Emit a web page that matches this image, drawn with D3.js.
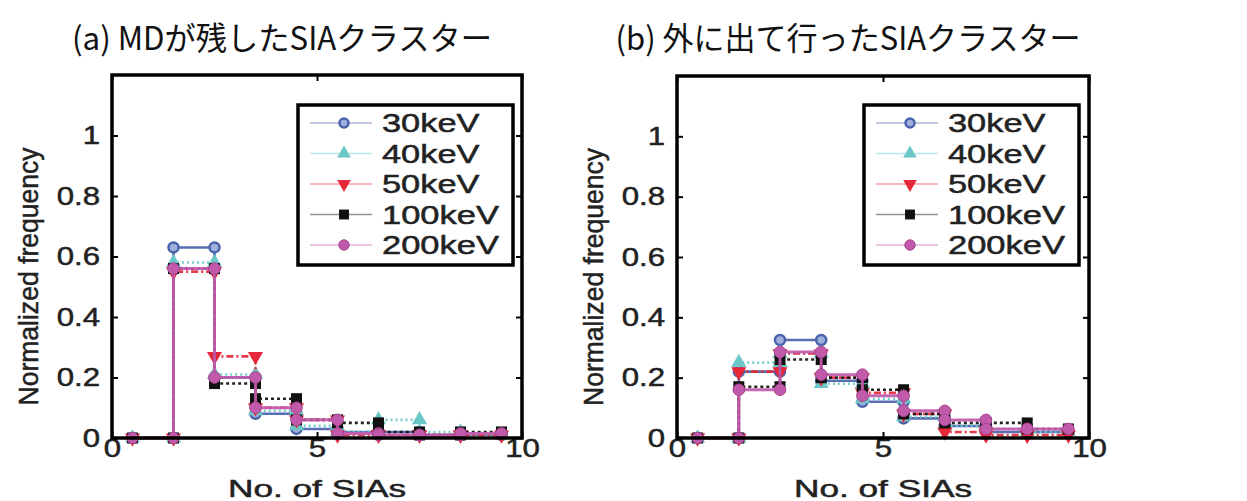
<!DOCTYPE html>
<html>
<head>
<meta charset="utf-8">
<style>
body { margin: 0; background: #fff; }
svg { display: block; }
.tick text, .legend text, .xlabel, .ylabel { font-family: "Liberation Sans", Arial, sans-serif; fill: #222; stroke: #222; stroke-width: 0.5px; }
.title { font-family: "Noto Sans CJK JP", sans-serif; fill: #111; }
.domain { display: none; }
</style>
</head>
<body>
<svg width="1247" height="501"></svg>
<script src="https://d3js.org/d3.v7.min.js"></script>
<script>
// bins: number of SIAs in a cluster
var bins = [1, 2, 3, 4, 5, 6, 7, 8, 9];
var energies = ["30keV", "40keV", "50keV", "100keV", "200keV"];
var xTicks = [0, 5, 10];
var yTicks = [0, 0.2, 0.4, 0.6, 0.8, 1];

// (a) clusters left by MD
var a30 = [0, 0.63, 0.20, 0.08, 0.03, 0.02, 0.02, 0.01, 0.01];
var a40 = [0, 0.58, 0.21, 0.09, 0.04, 0.02, 0.06, 0.02, 0.01];
var a50 = [0, 0.55, 0.27, 0.10, 0.06, 0.01, 0.01, 0.01, 0.01];
var a100 = [0, 0.56, 0.18, 0.13, 0.06, 0.05, 0.02, 0.01, 0.02];
var a200 = [0, 0.56, 0.20, 0.10, 0.06, 0.015, 0.01, 0.01, 0.015];

// (b) clusters that went outside
var b30 = [0, 0.22, 0.325, 0.19, 0.12, 0.065, 0.04, 0.02, 0.02];
var b40 = [0, 0.25, 0.28, 0.18, 0.13, 0.07, 0.04, 0.03, 0.02];
var b50 = [0, 0.22, 0.28, 0.20, 0.15, 0.08, 0.02, 0.01, 0.01];
var b100 = [0, 0.17, 0.26, 0.20, 0.16, 0.08, 0.05, 0.05, 0.03];
var b200 = [0, 0.16, 0.285, 0.21, 0.14, 0.09, 0.06, 0.03, 0.03];

var titleA = "(a) MDが残したSIAクラスター";
var titleB = "(b) 外に出て行ったSIAクラスター";

var colors = ["#4a62ac", "#6cc8c8", "#e6283a", "#111111", "#c25aac"];
var dashes = [null, "2,3", "7,3,2,3", "3,3", null];
var shapes = ["circle", "up", "down", "square", "dot"];

var svg = d3.select("svg");
svg.append("rect").attr("width", 1247).attr("height", 501).attr("fill", "#fff");

function marker(g, shape, color, px, py, s) {
  s = s || 1;
  if (shape == "circle") {
    g.append("circle").attr("cx", px).attr("cy", py).attr("r", 5 * s)
      .attr("fill", "#9fb0dc").attr("stroke", color).attr("stroke-width", 2.5);
  } else if (shape == "dot") {
    g.append("circle").attr("cx", px).attr("cy", py).attr("r", 5.8 * s)
      .attr("fill", color).attr("stroke", "#a8468e").attr("stroke-width", 1);
  } else if (shape == "square") {
    g.append("rect").attr("x", px - 5.5 * s).attr("y", py - 5.5 * s).attr("width", 11 * s).attr("height", 11 * s)
      .attr("fill", color);
  } else {
    var rot = shape == "down" ? 180 : 0;
    g.append("path").attr("d", d3.symbol(d3.symbolTriangle, 100 * s * s)())
      .attr("transform", "translate(" + px + "," + py + ") rotate(" + rot + ")")
      .attr("fill", color);
  }
}

function drawPanel(left, right, top, bottom, series, title, titleLen, legendX) {
  var x = d3.scaleLinear().domain([0, 10]).range([left, right]);
  var y = d3.scaleLinear().domain([0, 1.2]).range([bottom, top]);
  var g = svg.append("g");

  // step lines with markers on every corner
  var line = d3.line().x(function(d) { return x(d[0]); }).y(function(d) { return y(d[1]); });
  series.forEach(function(vals, i) {
    var pts = [];
    bins.forEach(function(b, k) {
      pts.push([b - 0.5, vals[k]]);
      pts.push([b + 0.5, vals[k]]);
    });
    g.append("path").attr("d", line(pts)).attr("fill", "none")
      .attr("stroke", colors[i]).attr("stroke-width", i == 4 ? 3 : 2.6)
      .attr("stroke-dasharray", dashes[i]).attr("opacity", 0.92);
    pts.forEach(function(p) { marker(g, shapes[i], colors[i], x(p[0]), y(p[1])); });
  });

  // axes, ticks inside
  var ax = g.append("g").attr("transform", "translate(0," + bottom + ")")
    .call(d3.axisBottom(x).tickValues(xTicks).tickSize(-6).tickPadding(1));
  g.append("g").attr("transform", "translate(0," + top + ")")
    .call(d3.axisTop(x).tickValues(xTicks).tickSize(-6).tickFormat(""));
  var ay = g.append("g").attr("transform", "translate(" + left + ",0)")
    .call(d3.axisLeft(y).tickValues(yTicks).tickSize(-6).tickPadding(12).tickFormat(d3.format("~g")));
  g.append("g").attr("transform", "translate(" + right + ",0)")
    .call(d3.axisRight(y).tickValues(yTicks).tickSize(-6).tickFormat(""));
  g.selectAll(".tick line").attr("stroke", "#000").attr("stroke-width", 2);
  ax.selectAll("text").attr("font-size", 26)
    .style("transform-box", "fill-box").style("transform-origin", "center").style("transform", "scaleX(1.2)");
  ay.selectAll("text").attr("font-size", 26)
    .style("transform-box", "fill-box").style("transform-origin", "right center").style("transform", "scaleX(1.2)");

  g.append("rect").attr("x", left).attr("y", top).attr("width", right - left).attr("height", bottom - top)
    .attr("fill", "none").attr("stroke", "#000").attr("stroke-width", 3.5);

  // labels
  svg.append("text").attr("class", "ylabel")
    .attr("transform", "translate(" + (left - 74) + "," + ((top + bottom) / 2 + 20) + ") rotate(-90)")
    .attr("text-anchor", "middle").attr("font-size", 28)
    .attr("textLength", 258).attr("lengthAdjust", "spacingAndGlyphs")
    .text("Normalized frequency");
  svg.append("text").attr("class", "xlabel")
    .attr("x", (left + right) / 2).attr("y", 497).attr("text-anchor", "middle")
    .attr("font-size", 24).attr("textLength", 178).attr("lengthAdjust", "spacingAndGlyphs")
    .text("No. of SIAs");
  svg.append("text").attr("class", "title")
    .attr("x", (left + right) / 2 - 35).attr("y", 50).attr("text-anchor", "middle")
    .attr("font-size", 32).attr("textLength", titleLen).attr("lengthAdjust", "spacingAndGlyphs")
    .text(title);

  // legend
  var lg = svg.append("g").attr("class", "legend");
  lg.append("rect").attr("x", legendX).attr("y", 105).attr("width", 215).attr("height", 160)
    .attr("fill", "#fff").attr("stroke", "#000").attr("stroke-width", 3.5);
  energies.forEach(function(name, i) {
    var ly = 123 + i * 30.5;
    lg.append("line").attr("x1", legendX + 12).attr("x2", legendX + 74).attr("y1", ly).attr("y2", ly)
      .attr("stroke", colors[i]).attr("stroke-width", 1.5).attr("opacity", 0.45);
    marker(lg, shapes[i], colors[i], legendX + 46, ly, 0.9);
    lg.append("text").attr("x", legendX + 84).attr("y", ly + 9).attr("font-size", 26)
      .attr("textLength", name.length * 19.5).attr("lengthAdjust", "spacingAndGlyphs")
      .text(name);
  });
}

drawPanel(112, 522, 75, 438, [a30, a40, a50, a100, a200], titleA, 420, 298);
drawPanel(677, 1089, 76, 438, [b30, b40, b50, b100, b200], titleB, 465, 864);
</script>
</body>
</html>
